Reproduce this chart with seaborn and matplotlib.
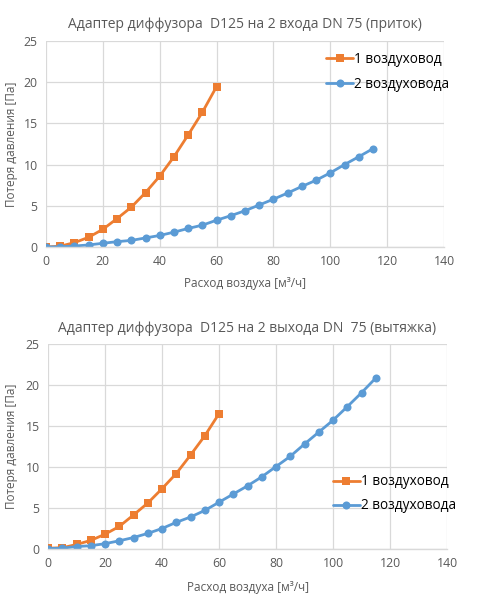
import matplotlib
matplotlib.use("Agg")
import matplotlib.pyplot as plt
import seaborn as sns
import pandas as pd

sns.set_theme(style="white")
plt.rcParams['font.family'] = ['Open Sans', 'DejaVu Sans']

series_names = ["1 воздуховод", "2 воздуховода"]
x1 = [0, 5, 10, 15, 20, 25, 30, 35, 40, 45, 50, 55, 60]
x2 = [0, 5, 10, 15, 20, 25, 30, 35, 40, 45, 50, 55, 60, 65, 70, 75, 80, 85, 90, 95, 100, 105, 110, 115]

top_y1 = [0.0, 0.1, 0.53, 1.18, 2.15, 3.45, 4.83, 6.6, 8.6, 10.95, 13.6, 16.35, 19.47]
top_y2 = [0.0, 0.03, 0.12, 0.25, 0.45, 0.65, 0.8, 1.1, 1.4, 1.8, 2.25, 2.65, 3.25, 3.8, 4.4, 5.1,
          5.8, 6.55, 7.35, 8.1, 9.0, 10.0, 10.95, 11.93]
bot_y1 = [0.1, 0.15, 0.55, 1.05, 1.8, 2.75, 4.15, 5.6, 7.35, 9.2, 11.45, 13.8, 16.5]
bot_y2 = [0.05, 0.1, 0.3, 0.4, 0.65, 1.0, 1.4, 1.9, 2.5, 3.25, 3.9, 4.7, 5.7, 6.7, 7.7, 8.8,
          10.05, 11.3, 12.8, 14.25, 15.7, 17.35, 19.05, 20.85]

titles = ["Адаптер диффузора  D125 на 2 входа DN 75 (приток)",
          "Адаптер диффузора  D125 на 2 выхода DN  75 (вытяжка)"]
xlabel = "Расход воздуха [м³/ч]"
ylabel = "Потеря давления [Па]"
xticks = [0, 20, 40, 60, 80, 100, 120, 140]
yticks = [0, 5, 10, 15, 20, 25]

colors = {series_names[0]: "#ED7D31", series_names[1]: "#5B9BD5"}
markers = {series_names[0]: "s", series_names[1]: "o"}
text_col = "#595959"

def make_df(y1, y2):
    return pd.concat([
        pd.DataFrame({"x": x1, "y": y1, "s": series_names[0]}),
        pd.DataFrame({"x": x2, "y": y2, "s": series_names[1]}),
    ], ignore_index=True)

fig = plt.figure(figsize=(4.94, 6.10), dpi=100)
W, H = 494, 610
ax_rects = [(46, 41, 444, 247), (48, 344, 447, 549)]
title_y = [24, 328]
xlabel_y = [283, 587]
legend_pos = [(0.69, 0.975), (0.70, 0.39)]
label_sp = [0.75, 0.65]

for i, (y1, y2) in enumerate([(top_y1, top_y2), (bot_y1, bot_y2)]):
    l, t, r, b = ax_rects[i]
    ax = fig.add_axes([l / W, 1 - b / H, (r - l) / W, (b - t) / H])
    df = make_df(y1, y2)
    sns.lineplot(data=df, x="x", y="y", hue="s", style="s", markers=markers, dashes=False,
                 palette=colors, linewidth=2.0, markersize=5.8, markeredgewidth=0,
                 ax=ax, sort=False)
    ax.set_xlim(0, 140)
    ax.set_ylim(0, 25)
    ax.set_xticks(xticks)
    ax.set_yticks(yticks)
    ax.grid(True, color="#D9D9D9", linewidth=0.9)
    ax.set_axisbelow(True)
    for s in ["left", "top", "right"]:
        ax.spines[s].set_visible(False)
    ax.spines["bottom"].set_color("#D9D9D9")
    ax.spines["bottom"].set_linewidth(1.0)
    ax.tick_params(axis="both", length=0, labelsize=8.8, colors=text_col, pad=6)
    ax.set_xlabel("")
    ax.set_ylabel("")
    fig.text((l + r) / 2 / W, 1 - title_y[i] / H, titles[i], ha="center", va="center",
             fontsize=10, color=text_col)
    fig.text((l + r) / 2 / W, 1 - xlabel_y[i] / H, xlabel, ha="center", va="center",
             fontsize=8.5, color=text_col)
    fig.text(12 / W, 1 - (t + b) / 2 / H, ylabel, ha="center", va="center", rotation=90,
             fontsize=8.5, color=text_col)
    leg = ax.legend(loc="upper left", bbox_to_anchor=legend_pos[i], frameon=False,
                    fontsize=9.8, handlelength=2.0, handletextpad=0.05,
                    labelspacing=label_sp[i], borderaxespad=0)
    for txt in leg.get_texts():
        txt.set_color("#000000")

fig.savefig("out.png", dpi=100)
